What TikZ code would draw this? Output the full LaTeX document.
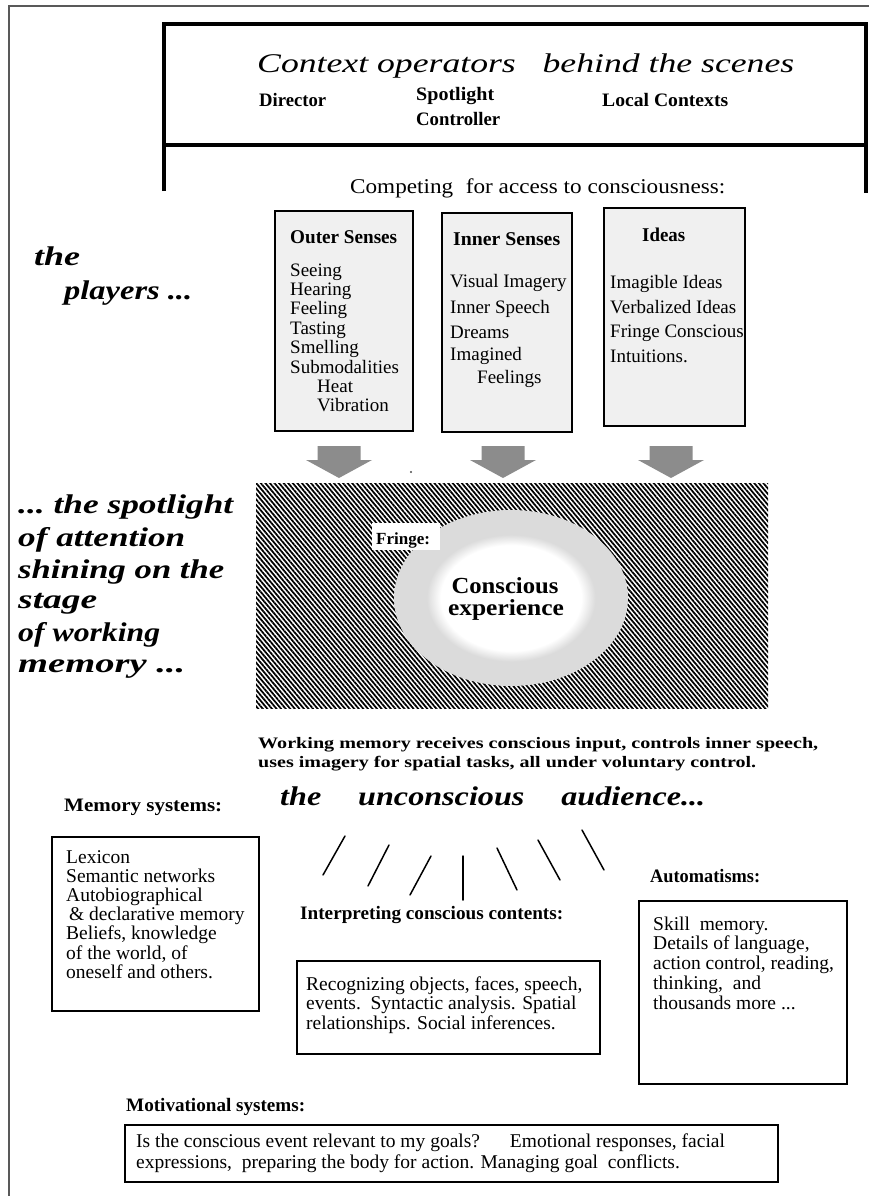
\documentclass[tikz,border=0pt]{standalone}
\usepackage{fontspec}
\setmainfont{Liberation Serif}
\usepackage{graphicx}
\usetikzlibrary{patterns.meta}
% narrow serif for the condensed labels
\newfontfamily\tms{Liberation Serif}
% stretch a line horizontally to a given width, keeping its height
\newcommand\fitx[2]{\resizebox{#1}{\height}{#2}}
% three plain dots, safe inside \foreach lists
\newcommand\threedots{...}
\colorlet{fringegray}{black!14}
\pgfdeclareradialshading{fringeglow}{\pgfpoint{0bp}{0bp}}{color(0bp)=(white); color(15bp)=(white); color(18bp)=(fringegray); color(25bp)=(fringegray); color(50bp)=(fringegray)}

\tikzset{
  frameline/.style={line width=3.4pt},
  sensebox/.style={draw, line width=1.8pt, fill=black!6, anchor=north west, inner sep=0pt},
  plainbox/.style={draw, line width=1.5pt, anchor=north west, inner sep=0pt},
  txt/.style={anchor=base west, inner sep=0pt},
  ctxt/.style={anchor=base, inner sep=0pt},
  item/.style={txt, font=\fontsize{19}{21}\selectfont},
  boxhead/.style={txt, font=\bfseries\fontsize{19.5}{21}\selectfont},
  lbl/.style={txt, font=\tms\bfseries\fontsize{19}{21}\selectfont},
  tbody/.style={txt, font=\tms\fontsize{19.5}{21}\selectfont},
  headline/.style={txt, font=\bfseries\itshape\fontsize{27}{30}\selectfont},
  slash/.style={line width=1.5pt, line cap=round},
  bigarrow/.style={fill=black!45},
}

\begin{document}
\begin{tikzpicture}[x=1pt,y=-1pt]
\useasboundingbox (0,0) rectangle (869,1196);

% page frame
\draw[black!65, line width=1.3pt] (9,1196) -- (9,6) -- (869,6);

% context operators box
\draw[frameline] (164,191) -- (164,24) -- (866,24) -- (866,193);
\draw[frameline] (164,145) -- (866,145);
\node[txt, font=\itshape\fontsize{27}{30}\selectfont] (title) at (257,73)
  {\fitx{537pt}{Context operators\hspace{0.5em} behind the scenes}};
\node[lbl] (director) at (259,107) {\fitx{67pt}{Director}};
\node[lbl] (spot1) at (416,101) {\fitx{78pt}{Spotlight}};
\node[lbl] (spot2) at (416,126) {\fitx{84pt}{Controller}};
\node[lbl] (local) at (602,107) {\fitx{126pt}{Local Contexts}};
\node[txt, font=\fontsize{21}{24}\selectfont] (compete) at (350,193)
  {\fitx{375pt}{Competing\hspace{0.3em} for access to consciousness:}};

% the players
\node[headline] (the) at (34,265) {\fitx{46pt}{the}};
\node[headline] (players) at (64,299) {\fitx{128pt}{players \threedots}};

% sense boxes
\node[sensebox, minimum width=138pt, minimum height=220pt] (outer) at (274,210) {};
\node[sensebox, minimum width=130pt, minimum height=219pt] (inner) at (441,212) {};
\node[sensebox, minimum width=141pt, minimum height=218pt] (ideas) at (603,207) {};

\node[boxhead] (outerhd) at (290,243) {\fitx{107pt}{Outer Senses}};
\foreach \t [count=\i] in {Seeing,Hearing,Feeling,Tasting,Smelling,Submodalities}
  \node[item] (os\i) at (290,{276+19.4*(\i-1)}) {\t};
\node[item] (os7) at (317,392.4) {Heat};
\node[item] (os8) at (317,411.8) {Vibration};

\node[boxhead] (innerhd) at (453,245) {\fitx{107pt}{Inner Senses}};
\foreach \t/\y [count=\i] in {Visual Imagery/287,Inner Speech/313,Dreams/338,Imagined/360}
  \node[item] (is\i) at (450,\y) {\t};
\node[item] (is5) at (477,383) {Feelings};

\node[boxhead] (ideashd) at (642,241) {\fitx{43pt}{Ideas}};
\foreach \t/\y [count=\i] in {Imagible Ideas/288,Verbalized Ideas/313,Fringe Conscious/337,Intuitions./362}
  \node[item] (id\i) at (610,\y) {\t};

% block arrows into the stage
\foreach \c in {339,503,671}
  \fill[bigarrow] (\c-21.5,446) -- (\c+21.5,446) -- (\c+21.5,460) -- (\c+33,460)
    -- (\c,478) -- (\c-33,460) -- (\c-21.5,460) -- cycle;
\fill[black!70] (411,472) circle (1.2pt);

% the stage: hatched working memory with the fringe and conscious spot
\fill[pattern={Lines[angle=-50,distance=3.5pt,line width=1.75pt]}] (256,483) rectangle (768,708);
\shade[shading=fringeglow] (511,598) ellipse [x radius=117, y radius=88];
\node[fill=white, inner sep=0pt, minimum width=68pt, minimum height=27pt, anchor=north west] (fringebg) at (372,523) {};
\node[txt, font=\bfseries\fontsize{17}{18}\selectfont] (fringe) at (376,544) {Fringe:};
\node[ctxt, font=\bfseries\fontsize{23}{25}\selectfont] (conscious1) at (505,593) {\fitx{107pt}{Conscious}};
\node[ctxt, font=\bfseries\fontsize{23}{25}\selectfont] (conscious2) at (506,615) {\fitx{116pt}{experience}};

% the spotlight of attention
\foreach \t/\w/\y [count=\i] in {{\threedots\ the spotlight}/215/513, {of attention}/167/546,
    {shining on the}/206/578, {stage}/79/608, {of working}/142/641, {memory \threedots}/167/672}
  \node[headline] (sl\i) at (18,\y) {\fitx{\w pt}{\t}};

% working memory caption
\node[txt, font=\bfseries\fontsize{16}{18}\selectfont] (wm1) at (258,748)
  {\fitx{560pt}{Working memory receives conscious input, controls inner speech,}};
\node[txt, font=\bfseries\fontsize{16}{18}\selectfont] (wm2) at (258,767)
  {\fitx{498pt}{uses imagery for spatial tasks, all under voluntary control.}};

% the audience
\node[headline] (audience) at (280,805)
  {\fitx{425pt}{the\hspace{0.9em} unconscious\hspace{0.9em} audience\threedots}};
\coordinate (r1a) at (323,875); \coordinate (r1b) at (345,836);
\coordinate (r2a) at (368,886); \coordinate (r2b) at (389,845);
\coordinate (r3a) at (410,895); \coordinate (r3b) at (431,856);
\coordinate (r4a) at (463,900); \coordinate (r4b) at (463,856);
\coordinate (r5a) at (497,848); \coordinate (r5b) at (517,890);
\coordinate (r6a) at (538,840); \coordinate (r6b) at (560,880);
\coordinate (r7a) at (582,830); \coordinate (r7b) at (604,870);
\foreach \i in {1,2,3,4,5,6,7} \draw[slash] (r\i a) -- (r\i b);

% memory systems
\node[lbl] (memhd) at (64,811) {\fitx{158pt}{Memory systems:}};
\node[plainbox, minimum width=207pt, minimum height=174pt] (membox) at (51,836) {};
\foreach \t [count=\i] in {Lexicon,Semantic networks,Autobiographical,
    {\hspace*{3pt}\& declarative memory},{Beliefs,\ knowledge},{of the world, of},
    oneself and others.}
  \node[tbody] (mem\i) at (66,{863+19.2*(\i-1)}) {\t};

% automatisms
\node[lbl] (autohd) at (650,882) {\fitx{110pt}{Automatisms:}};
\node[plainbox, minimum width=208pt, minimum height=183pt] (autobox) at (638,900) {};
\foreach \t [count=\i] in {{Skill\ \ memory.},{Details of language,},
    {action control, reading,},{thinking,\ \ and},{thousands more \threedots}}
  \node[tbody] (auto\i) at (653,{930+19.75*(\i-1)}) {\t};

% interpreting conscious contents
\node[lbl] (interphd) at (300,919) {\fitx{263pt}{Interpreting conscious contents:}};
\node[plainbox, minimum width=303pt, minimum height=93pt] (interpbox) at (296,960) {};
\foreach \t [count=\i] in {{Recognizing objects, faces, speech,},
    {events.\ \ Syntactic analysis. Spatial},{relationships. Social inferences.}}
  \node[tbody] (interp\i) at (306,{990+19.5*(\i-1)}) {\t};

% motivational systems
\node[lbl] (motivhd) at (126,1111) {\fitx{179pt}{Motivational systems:}};
\node[plainbox, minimum width=653pt, minimum height=57pt] (motivbox) at (124,1124) {};
\node[txt, font=\fontsize{19.5}{21}\selectfont] (motiv1) at (136,1147)
  {Is the conscious event relevant to my goals?\hspace{1.2em} Emotional responses, facial};
\node[txt, font=\fontsize{19.5}{21}\selectfont] (motiv2) at (136,1168)
  {expressions,\ \ preparing the body for action. Managing goal\ \ conflicts.};
\end{tikzpicture}
\end{document}
